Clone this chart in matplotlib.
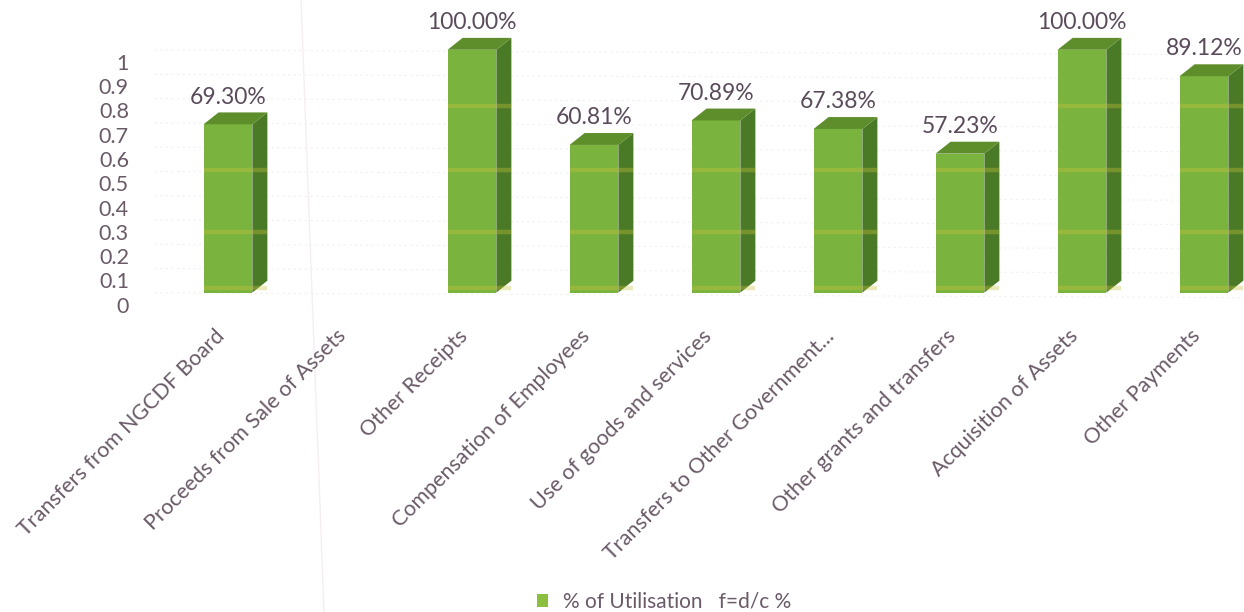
import matplotlib.pyplot as plt
import matplotlib.patches as mpatches
import matplotlib.transforms as mtransforms
from matplotlib.lines import Line2D
import numpy as np

# data
categories = ['Transfers from NGCDF Board', 'Proceeds from Sale of Assets', 'Other Receipts',
              'Compensation of Employees', 'Use of goods and services',
              'Transfers to Other Government...', 'Other grants and transfers',
              'Acquisition of Assets', 'Other Payments']
utilisation = [0.6930, 0.0, 1.0, 0.6081, 0.7089, 0.6738, 0.5723, 1.0, 0.8912]
yticks = [0, 0.1, 0.2, 0.3, 0.4, 0.5, 0.6, 0.7, 0.8, 0.9, 1]
ytick_labels = ['0', '0.1', '0.2', '0.3', '0.4', '0.5', '0.6', '0.7', '0.8', '0.9', '1']

plt.rcParams['font.family'] = ['Lato', 'DejaVu Sans']
text_col = '#6a5a68'
front_col = '#7ab33e'
side_col = '#4b7a26'
top_col = '#5e8e2c'

fig = plt.figure(figsize=(12.44, 6.12), dpi=100)
ax = fig.add_axes([140/1244, 1 - 312/612, 1 - 140/1244, 312/612])
ax.set_xlim(-0.721, 8.328)
ax.set_ylim(-0.03, 1.255)

# 3D look: front face width, side depth (x), top depth (y), base offset
w = 0.40
dx = 0.123
dy = 0.049
base = 0.05

# faint dotted gridlines on the back wall
for t in yticks:
    ax.plot([-0.6, 8.3], [t + dy, t + dy * 0.6], color='#f0f0f0', lw=0.8, ls=(0, (2, 3)), zorder=0)

x = np.arange(len(categories))
for xi, v in zip(x, utilisation):
    if v <= 0:
        continue
    b = base
    t = base + v
    front = mpatches.Rectangle((xi - w/2, b), w, v, facecolor=front_col, edgecolor='none', zorder=3)
    side = mpatches.Polygon([(xi + w/2, b), (xi + w/2 + dx, b + dy), (xi + w/2 + dx, t + dy), (xi + w/2, t)],
                            closed=True, facecolor=side_col, edgecolor='none', zorder=3)
    top = mpatches.Polygon([(xi - w/2, t), (xi + w/2, t), (xi + w/2 + dx, t + dy), (xi - w/2 + dx, t + dy)],
                           closed=True, facecolor=top_col, edgecolor='none', zorder=3)
    ax.add_patch(side)
    ax.add_patch(front)
    ax.add_patch(top)
    # yellowish scan stripes across the bars
    for s in [0.07, 0.30, 0.556, 0.819]:
        if s < t:
            ax.plot([xi - w/2, xi + w/2 + dx], [s, s], color='#c8c23c', lw=3.2, alpha=0.35, zorder=4,
                    solid_capstyle='butt')
    ax.text(xi, t + dy + 0.02, f'{v*100:.2f}%', ha='center', va='bottom', fontsize=16.5,
            color='#5a4b5a', zorder=5)

ax.set_yticks(yticks)
ax.set_yticklabels(ytick_labels)
ax.set_xticks(x)
ax.set_xticklabels(categories, rotation=45, ha='right', rotation_mode='anchor')
ax.tick_params(axis='both', length=0, labelsize=15.5, labelcolor=text_col)
ax.tick_params(axis='y', pad=8)
ax.tick_params(axis='x', pad=10)
shift = mtransforms.ScaledTranslation(-14/100, 0, fig.dpi_scale_trans)
for lab in ax.get_xticklabels():
    lab.set_transform(lab.get_transform() + shift)
for sp in ax.spines.values():
    sp.set_visible(False)
ax.set_facecolor('none')

# legend
handle = mpatches.Patch(facecolor='#8cbf3f', edgecolor='none')
fig.legend([handle], ['% of Utilisation   f=d/c %'], loc='center', bbox_to_anchor=(664/1244, 1 - 602/612),
           frameon=False, fontsize=15, labelcolor=text_col, handlelength=0.55, handleheight=0.55,
           handletextpad=0.7)

# faint fold line from the scanned page
fig.add_artist(Line2D([301/1244, 324/1244], [1, 0], color='#f4eef3', lw=1.0, zorder=0))

plt.savefig('out.png', dpi=100)
